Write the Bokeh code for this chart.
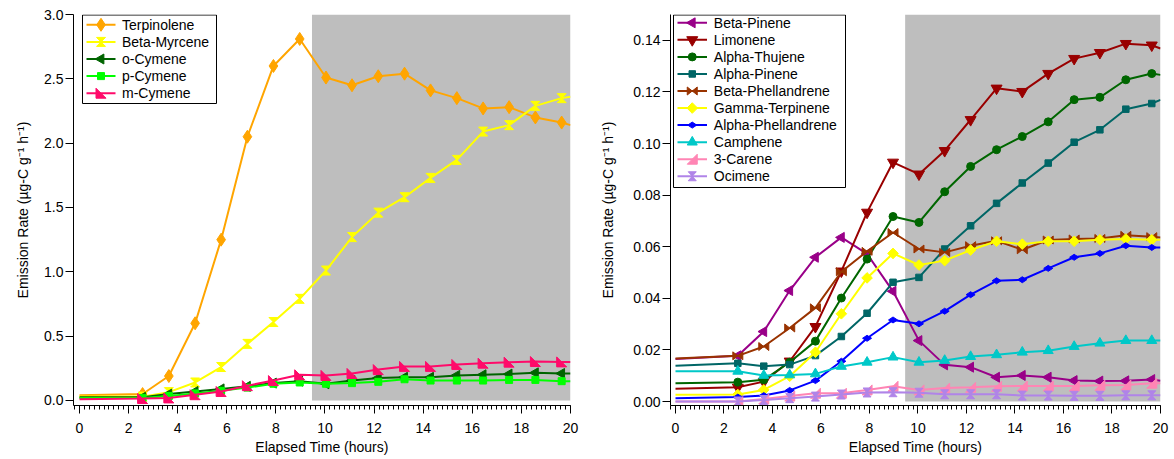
import math

from bokeh.core.properties import value
from bokeh.embed import file_html
from bokeh.layouts import row
from bokeh.models import (BoxAnnotation, FixedTicker, NumeralTickFormatter,
                          Range1d, SingleIntervalTicker)
from bokeh.plotting import figure
from bokeh.resources import INLINE

# ---------------------------------------------------------------- data
# sampling times (hours) of the measured points
hours = [2.57, 3.64, 4.71, 5.77, 6.84, 7.90, 8.97, 10.04, 11.10, 12.17,
         13.24, 14.30, 15.37, 16.44, 17.50, 18.57, 19.64]
# the traces run from the start of the experiment to the end of the axis
trace_start = 0.0
trace_end = 20.0
# start of the shaded (dark) period
dark_start = 9.47

# emission rates; first and last entries are the trace values at 0 h and 20 h
terpinolene = [0.04, 0.05, 0.19, 0.60, 1.25, 2.05, 2.60, 2.81, 2.51, 2.45,
               2.52, 2.54, 2.41, 2.35, 2.27, 2.28, 2.20, 2.16, 2.14]
beta_myrcene = [0.03, 0.03, 0.065, 0.14, 0.26, 0.44, 0.61, 0.79, 1.01, 1.27,
                1.46, 1.58, 1.73, 1.87, 2.09, 2.14, 2.29, 2.35, 2.36]
o_cymene = [0.025, 0.025, 0.05, 0.07, 0.09, 0.11, 0.135, 0.15, 0.13, 0.155,
            0.175, 0.18, 0.18, 0.195, 0.20, 0.205, 0.215, 0.21, 0.21]
p_cymene = [0.02, 0.02, 0.035, 0.055, 0.075, 0.10, 0.13, 0.14, 0.13, 0.135,
            0.145, 0.165, 0.155, 0.155, 0.155, 0.16, 0.16, 0.15, 0.15]
m_cymene = [0.01, 0.015, 0.02, 0.045, 0.07, 0.115, 0.155, 0.20, 0.195, 0.21,
            0.24, 0.265, 0.265, 0.28, 0.29, 0.298, 0.303, 0.30, 0.30]

beta_pinene = [0.0165, 0.0177, 0.0271, 0.0430, 0.0559, 0.0636, 0.0572, 0.0427,
               0.0236, 0.0142, 0.0133, 0.0094, 0.0101, 0.0094, 0.0081, 0.0079,
               0.0080, 0.0085, 0.0080]
limonene = [0.0049, 0.0055, 0.0077, 0.0156, 0.0290, 0.0505, 0.0733, 0.0927,
            0.0881, 0.0972, 0.1092, 0.1214, 0.1201, 0.1271, 0.1329, 0.1352,
            0.1387, 0.1381, 0.1368]
alpha_thujene = [0.0071, 0.0075, 0.0084, 0.0152, 0.0234, 0.0401, 0.0552,
                 0.0717, 0.0694, 0.0813, 0.0911, 0.0976, 0.1027, 0.1084,
                 0.1170, 0.1179, 0.1247, 0.1271, 0.1266]
alpha_pinene = [0.0139, 0.0148, 0.0137, 0.0143, 0.0178, 0.0252, 0.0342,
                0.0462, 0.0481, 0.0591, 0.0681, 0.0768, 0.0847, 0.0924,
                0.1005, 0.1053, 0.1133, 0.1155, 0.1169]
beta_phellandrene = [0.0167, 0.0177, 0.0213, 0.0285, 0.0363, 0.0503, 0.0582,
                     0.0655, 0.0591, 0.0578, 0.0604, 0.0623, 0.0588, 0.0626,
                     0.0630, 0.0632, 0.0644, 0.0639, 0.0636]
gamma_terpinene = [0.0026, 0.0027, 0.0045, 0.0098, 0.0191, 0.0340, 0.0479,
                   0.0574, 0.0529, 0.0546, 0.0587, 0.0621, 0.0610, 0.0621,
                   0.0621, 0.0627, 0.0630, 0.0627, 0.0627]
alpha_phellandrene = [0.0013, 0.0017, 0.0023, 0.0043, 0.0081, 0.0156, 0.0245,
                      0.0316, 0.0301, 0.0350, 0.0414, 0.0468, 0.0472, 0.0516,
                      0.0559, 0.0574, 0.0604, 0.0597, 0.0597]
camphene = [0.0117, 0.0117, 0.0101, 0.0103, 0.0107, 0.0136, 0.0152, 0.0172,
            0.0152, 0.0159, 0.0174, 0.0181, 0.0191, 0.0197, 0.0213, 0.0226,
            0.0236, 0.0236, 0.0236]
carene_3 = [0.0, 0.0, 0.0010, 0.0021, 0.0032, 0.0032, 0.0045, 0.0059, 0.0045,
            0.0052, 0.0055, 0.0059, 0.0060, 0.0060, 0.0060, 0.0063, 0.0064,
            0.0071, 0.0071]
ocimene = [0.0, 0.0, 0.0006, 0.0013, 0.0019, 0.0027, 0.0035, 0.0036, 0.0034,
           0.0028, 0.0028, 0.0028, 0.0023, 0.0023, 0.0022, 0.0022, 0.0024,
           0.0024, 0.0024]

x_ticks_major = 2
left_y_ticks = [0.0, 0.5, 1.0, 1.5, 2.0, 2.5, 3.0]
right_y_ticks = [0.00, 0.02, 0.04, 0.06, 0.08, 0.10, 0.12, 0.14]

FONT = "Liberation Sans"
SHADE = "#bebebe"

# polygon outlines (unit half-size, y up) for marker shapes Bokeh lacks
SHAPES = {
    "hourglass": [(-1, 1), (1, 1), (0, 0), (1, -1), (-1, -1), (0, 0)],
    "bowtie": [(-1, 1), (0, 0), (1, 1), (1, -1), (0, 0), (-1, -1)],
    "tri_ll": [(-1, 1), (-1, -1), (1, -1)],
    "tri_lr": [(1, 1), (1, -1), (-1, -1)],
}

# series specs: label, values, color, marker kind, marker params
left_series = [
    ("Terpinolene", terpinolene, "#ffa500", ("scatter", "diamond", 13, 0.0)),
    ("Beta-Myrcene", beta_myrcene, "#ffff00", ("poly", "hourglass", 4.5, 4.5)),
    ("o-Cymene", o_cymene, "#006400", ("scatter", "triangle", 10, math.pi / 2)),
    ("p-Cymene", p_cymene, "#00ff00", ("scatter", "square", 7, 0.0)),
    ("m-Cymene", m_cymene, "#ff0a6a", ("poly", "tri_ll", 5, 5)),
]
right_series = [
    ("Beta-Pinene", beta_pinene, "#990088", ("scatter", "triangle", 10, math.pi / 2)),
    ("Limonene", limonene, "#990000", ("scatter", "inverted_triangle", 11, 0.0)),
    ("Alpha-Thujene", alpha_thujene, "#006600", ("scatter", "circle", 8, 0.0)),
    ("Alpha-Pinene", alpha_pinene, "#006666", ("scatter", "square", 6.5, 0.0)),
    ("Beta-Phellandrene", beta_phellandrene, "#993300", ("poly", "bowtie", 5, 4)),
    ("Gamma-Terpinene", gamma_terpinene, "#ffff00", ("scatter", "square", 7.5, math.pi / 4)),
    ("Alpha-Phellandrene", alpha_phellandrene, "#0000ff", ("scatter", "diamond", 9, math.pi / 2)),
    ("Camphene", camphene, "#00c8c8", ("scatter", "triangle", 10, 0.0)),
    ("3-Carene", carene_3, "#ff85b4", ("poly", "tri_lr", 5, 5)),
    ("Ocimene", ocimene, "#b084e8", ("poly", "hourglass", 4, 4.5)),
]


class Panel:
    """A figure plus the pixel<->data mapping of its frame."""

    def __init__(self, border_left, border_right, x_range, y_range,
                 width=587, height=459, border_top=14, border_bottom=54):
        self.x0, self.x1 = x_range
        self.y0, self.y1 = y_range
        fw = width - border_left - border_right
        fh = height - border_top - border_bottom
        self.sx = fw / (self.x1 - self.x0)
        self.sy = fh / (self.y1 - self.y0)
        self.fig = figure(width=width, height=height,
                          x_range=Range1d(self.x0, self.x1),
                          y_range=Range1d(self.y0, self.y1),
                          min_border_left=border_left,
                          min_border_right=border_right,
                          min_border_top=border_top,
                          min_border_bottom=border_bottom,
                          output_backend="svg", toolbar_location=None)

    def fx(self, px):
        return self.x0 + px / self.sx

    def fy(self, py):
        return self.y1 - py / self.sy


def style_axes(panel, y_ticks, y_format, y_label_standoff):
    p = panel.fig
    p.outline_line_color = None
    p.xgrid.grid_line_color = None
    p.ygrid.grid_line_color = None
    p.background_fill_color = "white"
    p.border_fill_color = "white"
    for ax in (p.xaxis[0], p.yaxis[0]):
        ax.axis_line_color = "black"
        ax.axis_line_width = 1
        ax.major_tick_line_color = "black"
        ax.minor_tick_line_color = "black"
        ax.major_tick_in = 0
        ax.major_tick_out = 8
        ax.minor_tick_in = 0
        ax.major_label_text_font = FONT
        ax.major_label_text_font_size = "14px"
        ax.major_label_text_color = "black"
        ax.axis_label_text_font = FONT
        ax.axis_label_text_font_size = "14px"
        ax.axis_label_text_font_style = "normal"
        ax.axis_label_text_color = "black"
    xa = p.xaxis[0]
    xa.ticker = SingleIntervalTicker(interval=x_ticks_major, num_minor_ticks=10)
    xa.minor_tick_out = 4
    xa.major_label_standoff = 9
    xa.axis_label = "Elapsed Time (hours)"
    xa.axis_label_standoff = 3
    ya = p.yaxis[0]
    ya.ticker = FixedTicker(ticks=y_ticks, minor_ticks=[])
    ya.formatter = NumeralTickFormatter(format=y_format)
    ya.minor_tick_out = 0
    ya.major_label_standoff = 2
    ya.axis_label = "Emission Rate (µg-C g\u207b\u00b9 h\u207b\u00b9)"
    ya.axis_label_standoff = y_label_standoff


def draw_marker(panel, xs, ys, color, spec):
    p = panel.fig
    kind = spec[0]
    if kind == "scatter":
        _, marker, size, angle = spec
        p.scatter(xs, ys, marker=marker, size=size, angle=angle,
                  fill_color=color, line_color=color, line_width=1)
    else:
        _, shape, hw, hh = spec
        pts = SHAPES[shape]
        pxs = [[x + u * hw / panel.sx for u, v in pts] for x in xs]
        pys = [[y + v * hh / panel.sy for u, v in pts] for y in ys]
        p.patches(pxs, pys, fill_color=color, line_color=color, line_width=1)


def draw_series(panel, series):
    line_hours = [trace_start] + hours + [trace_end]
    for _, vals, color, spec in series:
        panel.fig.line(line_hours, vals, line_color=color, line_width=2)
        draw_marker(panel, hours, vals[1:-1], color, spec)


def draw_legend(panel, series, box, row0, row_step, line_px, text_px):
    """Legend box drawn inside the frame; pixel offsets from frame top-left."""
    p = panel.fig
    left, top, right, bottom = box
    p.quad(left=[panel.fx(left)], right=[panel.fx(right)],
           top=[panel.fy(top)], bottom=[panel.fy(bottom)],
           fill_color="white", line_color="black", line_width=1)
    names = []
    tx, ty = [], []
    for i, (name, _, color, spec) in enumerate(series):
        yrow = panel.fy(row0 + i * row_step)
        p.line([panel.fx(line_px[0]), panel.fx(line_px[1])], [yrow, yrow],
               line_color=color, line_width=2)
        mid = panel.fx((line_px[0] + line_px[1]) / 2)
        draw_marker(panel, [mid], [yrow], color, spec)
        names.append(name)
        tx.append(panel.fx(text_px))
        ty.append(yrow)
    p.text(x=tx, y=ty, text=names, text_font=value(FONT),
           text_font_size="14px", text_baseline="middle", text_align="left",
           text_color="black")


# ---------------------------------------------------------------- left panel
left = Panel(border_left=73, border_right=17,
             x_range=(-0.244, 20.0), y_range=(-0.039, 3.0))
style_axes(left, left_y_ticks, "0.0", 10)
left.fig.add_layout(BoxAnnotation(left=dark_start, right=trace_end, bottom=0,
                                  top=3.0, fill_color=SHADE, fill_alpha=1.0,
                                  line_color=None, level="underlay"))
draw_series(left, left_series)
draw_legend(left, left_series, box=(9, 0.5, 143, 89), row0=10.3,
            row_step=17.1, line_px=(13, 42), text_px=48.5)

# ---------------------------------------------------------------- right panel
right = Panel(border_left=83, border_right=14,
              x_range=(-0.206, 20.0), y_range=(-0.00155, 0.15))
style_axes(right, right_y_ticks, "0.00", 14)
right.fig.add_layout(BoxAnnotation(left=dark_start, right=trace_end, bottom=0,
                                   top=0.15, fill_color=SHADE, fill_alpha=1.0,
                                   line_color=None, level="underlay"))
draw_series(right, right_series)
draw_legend(right, right_series, box=(3, 0.5, 175, 173), row0=8.3,
            row_step=17.05, line_px=(7, 36.5), text_px=43.3)

layout = row(left.fig, right.fig, spacing=0)
open("out.html", "w").write(file_html(layout, INLINE))
